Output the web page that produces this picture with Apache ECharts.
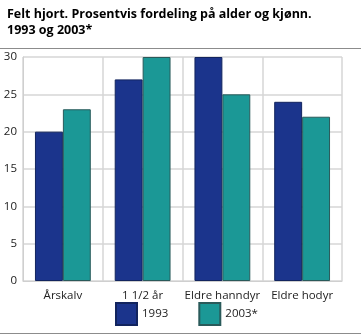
<!DOCTYPE html>
<html><head><meta charset="utf-8">
<script src="https://cdn.jsdelivr.net/npm/echarts@6/dist/echarts.min.js"></script>
<style>html,body{margin:0;padding:0;background:#fff}#c{width:361px;height:335px}</style>
</head><body><div id="c"></div>
<script>
const categories = ['Årskalv', '1 1/2 år', 'Eldre hanndyr', 'Eldre hodyr'];
const seriesNames = ['1993', '2003*'];
const values1993 = [20, 27, 30, 24];
const values2003 = [23, 30, 25, 22];
const titleText = 'Felt hjort. Prosentvis fordeling på alder og kjønn.\n1993 og 2003*';

const font = '"Open Sans", sans-serif';
const chart = echarts.init(document.getElementById('c'), null, {renderer: 'canvas'});
chart.setOption({
  animation: false,
  textStyle: {fontFamily: font},
  title: {
    text: titleText, left: 2, top: 1,
    textStyle: {fontFamily: font, fontSize: 12.5, fontWeight: 'bold', color: '#000', lineHeight: 16}
  },
  graphic: [
    {type: 'line', shape: {x1: 0, y1: 48.5, x2: 361, y2: 48.5}, style: {stroke: '#8c8c8c', lineWidth: 1}},
    {type: 'line', shape: {x1: 0, y1: 333.5, x2: 361, y2: 333.5}, style: {stroke: '#8c8c8c', lineWidth: 1}}
  ],
  legend: {
    data: seriesNames, top: 302, left: 115, itemWidth: 21, itemHeight: 22, itemGap: 30, padding: 0,
    textStyle: {fontFamily: font, fontSize: 11.5, color: '#222'},
    icon: 'rect'
  },
  grid: {left: 23, right: 19, top: 57, bottom: 54},
  xAxis: {
    type: 'category', data: categories,
    axisLine: {show: true, lineStyle: {color: '#cfcfcf'}},
    axisTick: {show: false},
    axisLabel: {fontFamily: font, fontSize: 11.5, color: '#222', margin: 9, interval: 0},
    splitLine: {show: true, interval: 0, lineStyle: {color: '#d6d6d6', width: 1.5}}
  },
  yAxis: {
    type: 'value', min: 0, max: 30, interval: 5,
    axisLine: {show: true, lineStyle: {color: '#cfcfcf'}},
    axisTick: {show: false},
    axisLabel: {fontFamily: font, fontSize: 11.5, color: '#222', margin: 6},
    splitLine: {show: true, lineStyle: {color: '#d6d6d6', width: 1.5}}
  },
  series: [
    {name: seriesNames[0], type: 'bar', data: values1993, barGap: 0, barCategoryGap: '30%',
     itemStyle: {color: '#1b348c', borderColor: '#12245e', borderWidth: 1}},
    {name: seriesNames[1], type: 'bar', data: values2003, barGap: 0, barCategoryGap: '30%',
     itemStyle: {color: '#1b9896', borderColor: '#2a5a5a', borderWidth: 1}}
  ]
});
</script></body></html>
